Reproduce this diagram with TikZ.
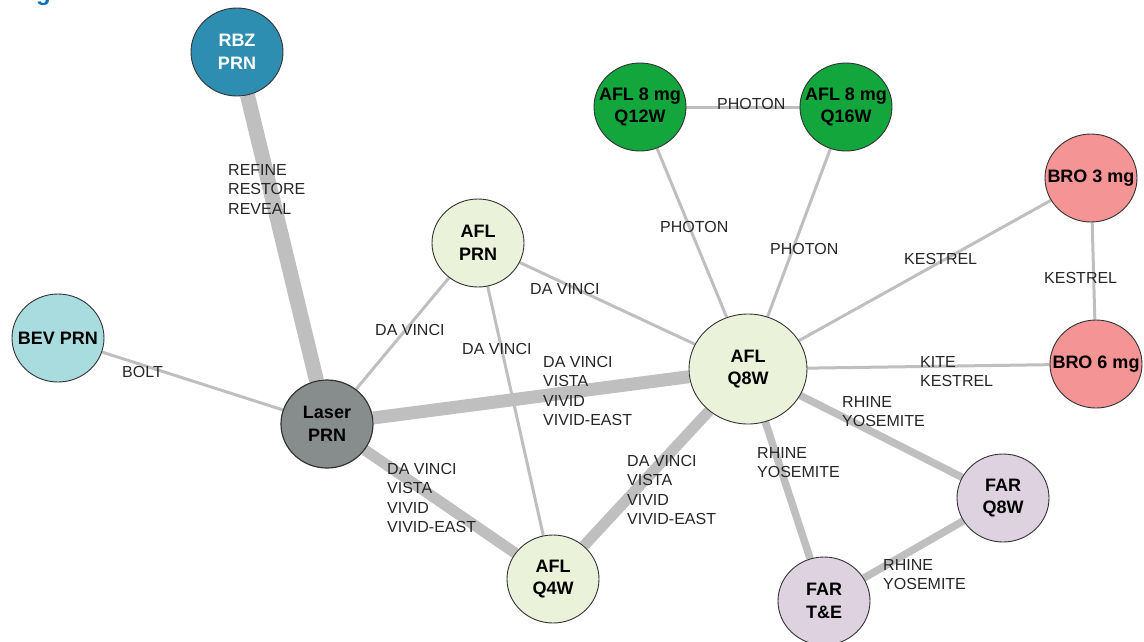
\documentclass[tikz,border=0pt]{standalone}
\usepackage{fontspec}
\setmainfont{Liberation Sans}
\usetikzlibrary{shapes.geometric,backgrounds}
\definecolor{edgegray}{HTML}{BFBFBF}
\definecolor{rbzblue}{HTML}{2E8EB2}
\definecolor{bevcyan}{HTML}{A9DCDF}
\definecolor{lasergray}{HTML}{878D8C}
\definecolor{aflgreen}{HTML}{EBF2DA}
\definecolor{darkgreen}{HTML}{12A63C}
\definecolor{bropink}{HTML}{F49494}
\definecolor{farlav}{HTML}{DED2E1}
\definecolor{labeltext}{HTML}{262626}
\definecolor{titleblue}{HTML}{0070C0}
\begin{document}
\begin{tikzpicture}[x=1pt,y=-1pt,
  nd/.style={ellipse,draw=black!80,line width=0.9pt,minimum width=92pt,minimum height=88pt,inner sep=0pt},
  big/.style={minimum width=118pt,minimum height=110pt},
  ntext/.style={align=center,inner sep=0pt,font=\fontsize{18}{22.5}\selectfont\bfseries},
  lbl/.style={anchor=base west,inner sep=0pt,align=left,font=\fontsize{16}{19.5}\selectfont,text=labeltext},
  thin/.style={draw=edgegray,line width=3pt},
  mid/.style={draw=edgegray,line width=7.5pt},
  wide/.style={draw=edgegray,line width=11pt},
  wider/.style={draw=edgegray,line width=13pt},
  widest/.style={draw=edgegray,line width=15pt}
]
\useasboundingbox (0,0) rectangle (1144,641);

% clipped title fragment
\node[anchor=base west,inner sep=0pt,text=titleblue,font=\fontsize{24}{28}\selectfont\bfseries] (title) at (36,0) {g};

% nodes
\node[nd,fill=rbzblue,label={[ntext,text=white]center:RBZ\\PRN}] (rbz) at (237,52) {};
\node[nd,fill=bevcyan,label={[ntext]center:BEV PRN}] (bev) at (58,338) {};
\node[nd,fill=lasergray,line width=1.2pt,label={[ntext]center:Laser\\PRN}] (laser) at (327,424) {};
\node[nd,fill=aflgreen,label={[ntext]center:AFL\\PRN}] (aflprn) at (478,243) {};
\node[nd,big,fill=aflgreen,label={[ntext]center:AFL\\Q8W}] (q8w) at (748,369) {};
\node[nd,fill=aflgreen,label={[ntext]center:AFL\\Q4W}] (q4w) at (553,579) {};
\node[nd,fill=darkgreen,label={[ntext]center:AFL 8 mg\\Q12W}] (q12w) at (640,107) {};
\node[nd,fill=darkgreen,label={[ntext]center:AFL 8 mg\\Q16W}] (q16w) at (846,107) {};
\node[nd,fill=bropink,label={[ntext]center:BRO 3 mg}] (bro3) at (1091,178) {};
\node[nd,fill=bropink,label={[ntext]center:BRO 6 mg}] (bro6) at (1096,364) {};
\node[nd,fill=farlav,label={[ntext]center:FAR\\Q8W}] (farq8w) at (1003,498) {};
\node[nd,fill=farlav,label={[ntext]center:FAR\\T\&E}] (farte) at (824,601) {};

% edges
\begin{scope}[on background layer]
\draw[widest] (rbz) -- (laser);
\draw[thin] (bev) -- (laser);
\draw[thin] (laser) -- (aflprn);
\draw[wider] (laser) -- (q8w);
\draw[wide] (laser) -- (q4w);
\draw[thin] (aflprn) -- (q8w);
\draw[thin] (aflprn) -- (q4w);
\draw[wide] (q4w) -- (q8w);
\draw[thin] (q12w) -- (q8w);
\draw[thin] (q16w) -- (q8w);
\draw[thin] (q12w) -- (q16w);
\draw[thin] (bro3) -- (q8w);
\draw[thin] (bro3) -- (bro6);
\draw[thin] (q8w) -- (bro6);
\draw[mid] (q8w) -- (farq8w);
\draw[mid] (q8w) -- (farte);
\draw[mid] (farq8w) -- (farte);
\end{scope}

% edge labels (y = baseline of the last line)
\node[lbl] (l1) at (228,214) {REFINE\\RESTORE\\REVEAL};
\node[lbl] (l2) at (122,377) {BOLT};
\node[lbl] (l3) at (375,335) {DA VINCI};
\node[lbl] (l4) at (530,294) {DA VINCI};
\node[lbl] (l5) at (462,354) {DA VINCI};
\node[lbl] (l6) at (543,425.5) {DA VINCI\\VISTA\\VIVID\\VIVID-EAST};
\node[lbl] (l7) at (387,532.5) {DA VINCI\\VISTA\\VIVID\\VIVID-EAST};
\node[lbl] (l8) at (627,524.5) {DA VINCI\\VISTA\\VIVID\\VIVID-EAST};
\node[lbl] (l9) at (660,232) {PHOTON};
\node[lbl] (l10) at (770,254) {PHOTON};
\node[lbl] (l11) at (717,109) {PHOTON};
\node[lbl] (l12) at (904,264) {KESTREL};
\node[lbl] (l13) at (1044,283) {KESTREL};
\node[lbl] (l14) at (920,386.5) {KITE\\KESTREL};
\node[lbl] (l15) at (842,426.5) {RHINE\\YOSEMITE};
\node[lbl] (l16) at (757,477.5) {RHINE\\YOSEMITE};
\node[lbl] (l17) at (883,589.5) {RHINE\\YOSEMITE};
\end{tikzpicture}
\end{document}
